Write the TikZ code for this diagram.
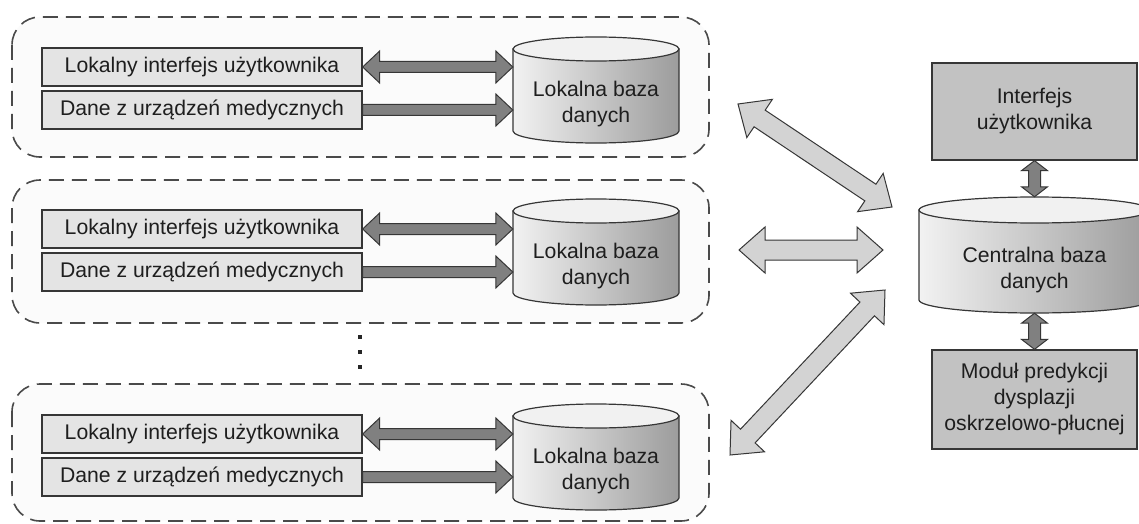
\documentclass[tikz,border=0pt]{standalone}
\usepackage{fontspec}
\setmainfont{Liberation Sans}
\usetikzlibrary{calc}

\definecolor{edge}{HTML}{363636}
\definecolor{dashc}{HTML}{4A4A4A}
\definecolor{boxlight}{HTML}{E4E4E4}
\definecolor{boxdark}{HTML}{C2C2C2}
\definecolor{arrowdark}{HTML}{808080}
\definecolor{arrowlight}{HTML}{D3D3D3}
\definecolor{txt}{HTML}{1E1E1E}
\definecolor{cylL}{HTML}{F2F2F2}
\definecolor{cylM}{HTML}{D9D9D9}
\definecolor{cylR}{HTML}{9C9C9C}
\definecolor{cyltopc}{HTML}{F1F1F1}
\definecolor{groupfill}{HTML}{FBFBFB}

\tikzset{
  basefont/.style={font=\fontsize{21.2}{26}\selectfont, text=txt},
  groupbox/.style={draw=dashc, line width=1.6pt, dash pattern=on 15pt off 8pt,
    rounded corners=28pt, fill=groupfill},
  lbox/.style={basefont, draw=edge, line width=1.3pt, fill=boxlight,
    minimum width=320pt, minimum height=38pt, inner sep=0pt},
  rbox/.style={basefont, draw=edge, line width=1.3pt, fill=boxdark,
    minimum width=205pt, align=center, inner sep=0pt},
  cylbody/.style={draw=edge, line width=1.2pt, left color=cylL, middle color=cylM, right color=cylR},
  cyltop/.style={draw=edge, line width=1.2pt, fill=cyltopc},
  cylframe/.style={draw=none, inner sep=0pt},
  cyltext/.style={basefont, align=center, inner sep=0pt},
  darkarrow/.style={draw=edge, line width=1pt, fill=arrowdark, line join=miter},
  lightarrow/.style={draw=edge, line width=1pt, fill=arrowlight, line join=miter},
}

% database cylinder: name, cx, cy, half width, half height, ry, text, text shift
\newcommand\dbnode[8]{%
  \path[cylbody] ({#2-#4},{#3-#5+#6}) -- ({#2-#4},{#3+#5-#6})
     arc[start angle=180, end angle=360, x radius=#4pt, y radius=#6pt]
     -- ({#2+#4},{#3-#5+#6}) -- cycle;
  \path[cyltop] (#2,{#3-#5+#6}) ellipse [x radius=#4pt, y radius=#6pt];
  \node[cylframe, minimum width=2*#4pt, minimum height=2*#5pt] (#1) at (#2,#3) {};
  \node[cyltext] (#1-t) at (#2,{#3+#8}) {#7};
}

% block arrow with two heads: style, from, to, shaft half, head half, head length
\newcommand\dualarrow[6]{%
  \draw[#1] (#2)
    -- ($(#2)!#6!(#3)!#5!90:(#3)$)
    -- ($(#2)!#6!(#3)!#4!90:(#3)$)
    -- ($(#3)!#6!(#2)!#4!-90:(#2)$)
    -- ($(#3)!#6!(#2)!#5!-90:(#2)$)
    -- (#3)
    -- ($(#3)!#6!(#2)!#5!90:(#2)$)
    -- ($(#3)!#6!(#2)!#4!90:(#2)$)
    -- ($(#2)!#6!(#3)!#4!-90:(#3)$)
    -- ($(#2)!#6!(#3)!#5!-90:(#3)$)
    -- cycle;
}

% block arrow with one head
\newcommand\onearrow[6]{%
  \draw[#1] ($(#2)!#4!90:(#3)$)
    -- ($(#3)!#6!(#2)!#4!-90:(#2)$)
    -- ($(#3)!#6!(#2)!#5!-90:(#2)$)
    -- (#3)
    -- ($(#3)!#6!(#2)!#5!90:(#2)$)
    -- ($(#3)!#6!(#2)!#4!90:(#2)$)
    -- ($(#2)!#4!-90:(#3)$)
    -- cycle;
}

\begin{document}
\begin{tikzpicture}[x=1pt, y=-1pt]
\useasboundingbox[fill=white] (0,0) rectangle (1139,524);

% --- local sites ---
\draw[groupbox] (12,17) rectangle (709,157);
\draw[groupbox] (12,180) rectangle (709,323);
\draw[groupbox] (12,384) rectangle (709,521);

\foreach \g/\k in {0/1, 162/2, 367/3} {
  \node[lbox] (lok\k) at (202,{67+\g}) {Lokalny interfejs użytkownika};
  \node[lbox] (dane\k) at (202,{110+\g}) {Dane z urządzeń medycznych};
  \dbnode{db\k}{596}{90+\g}{83}{53}{12}{Lokalna baza\\danych}{14}
  \coordinate (in\k a) at (lok\k.east -| db\k.west);
  \coordinate (in\k b) at (dane\k.east -| db\k.west);
  \dualarrow{darkarrow}{lok\k.east}{in\k a}{5.5pt}{16pt}{17pt}
  \onearrow{darkarrow}{dane\k.east}{in\k b}{5.5pt}{16pt}{17pt}
}

% continuation dots
\foreach \yy in {337,352,367} \fill[black!85] (358,{\yy-2}) rectangle (362,{\yy+2});

% --- central part ---
\node[rbox, minimum height=97pt] (ui) at (1034.5,111.5) {Interfejs\\użytkownika};
\dbnode{central}{1034.5}{255}{115.5}{58}{13}{Centralna baza\\danych}{15}
\node[rbox, minimum height=99pt] (pred) at (1034.5,399.5) {Moduł predykcji\\dysplazji\\oskrzelowo-płucnej};

\dualarrow{darkarrow}{ui.south}{central.north}{6pt}{13pt}{10pt}
\dualarrow{darkarrow}{central.south}{pred.north}{6pt}{13pt}{10pt}

% --- links between the sites and the central database ---
\coordinate (s1) at (738,104);
\coordinate (c1) at (892,207);
\coordinate (s2) at (739,250);
\coordinate (c2) at (883,250);
\coordinate (s3) at (730,455);
\coordinate (c3) at (885,290);
\dualarrow{lightarrow}{s1}{c1}{10pt}{23pt}{26pt}
\dualarrow{lightarrow}{s2}{c2}{10pt}{23pt}{26pt}
\dualarrow{lightarrow}{s3}{c3}{10pt}{23pt}{26pt}
\end{tikzpicture}
\end{document}
